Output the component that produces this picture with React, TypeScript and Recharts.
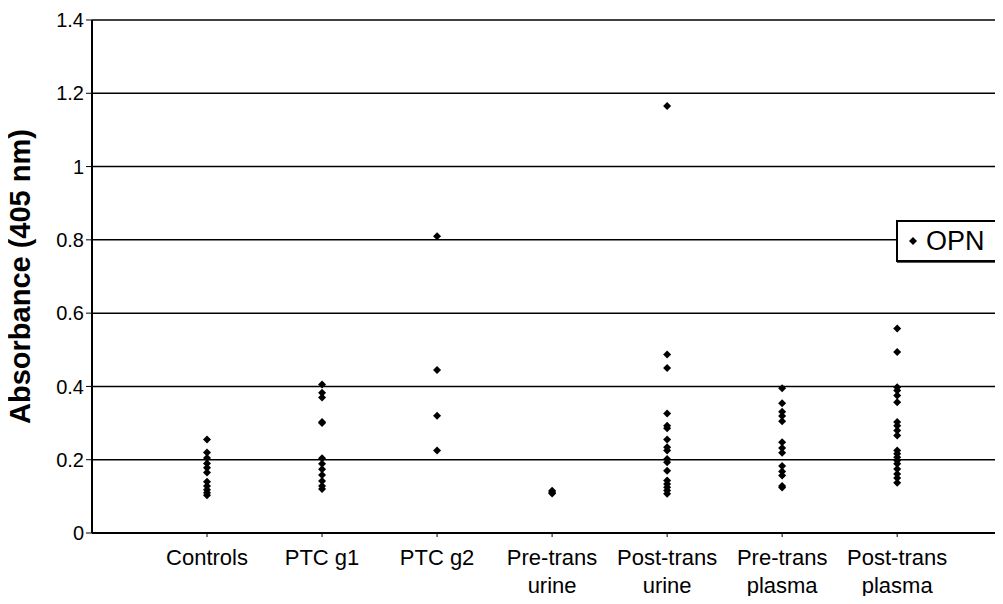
import React from "react";
import {
  ScatterChart,
  Scatter,
  XAxis,
  YAxis,
  CartesianGrid,
  Legend,
} from "recharts";

const CATEGORIES = [
  "Controls",
  "PTC g1",
  "PTC g2",
  "Pre-trans\nurine",
  "Post-trans\nurine",
  "Pre-trans\nplasma",
  "Post-trans\nplasma",
];

const controls = [0.255, 0.22, 0.205, 0.19, 0.178, 0.165, 0.14, 0.128, 0.118, 0.11, 0.103];
const ptcG1 = [0.405, 0.383, 0.37, 0.303, 0.3, 0.204, 0.189, 0.174, 0.158, 0.142, 0.128, 0.12];
const ptcG2 = [0.81, 0.445, 0.32, 0.225];
const preTransUrine = [0.115, 0.111, 0.108];
const postTransUrine = [
  1.165, 0.487, 0.45, 0.326, 0.293, 0.286, 0.255, 0.234, 0.225, 0.202, 0.193, 0.17,
  0.143, 0.134, 0.125, 0.116, 0.107,
];
const preTransPlasma = [
  0.395, 0.354, 0.331, 0.319, 0.305, 0.248, 0.232, 0.219, 0.183, 0.168, 0.157, 0.128, 0.124,
];
const postTransPlasma = [
  0.558, 0.494, 0.398, 0.389, 0.375, 0.357, 0.303, 0.293, 0.28, 0.266, 0.225, 0.216,
  0.207, 0.198, 0.189, 0.175, 0.161, 0.15, 0.137,
];

const Y_TICKS = [0, 0.2, 0.4, 0.6, 0.8, 1, 1.2, 1.4];
const X_TICKS = [1, 2, 3, 4, 5, 6, 7];

const SERIES = [
  controls,
  ptcG1,
  ptcG2,
  preTransUrine,
  postTransUrine,
  preTransPlasma,
  postTransPlasma,
];

const data = SERIES.flatMap((vals, i) => vals.map((v) => ({ x: i + 1, y: v })));

const FONT = '"Liberation Sans", Arial, sans-serif';

function Diamond(props: any) {
  const { cx, cy } = props;
  if (cx == null || cy == null) return null;
  const r = 4;
  return (
    <polygon
      points={`${cx},${cy - r} ${cx + r},${cy} ${cx},${cy + r} ${cx - r},${cy}`}
      fill="#000"
    />
  );
}

function CategoryTick({ x, y, payload }: any) {
  const label = CATEGORIES[payload.value - 1] ?? "";
  const lines = label.split("\n");
  return (
    <text x={x} y={y} textAnchor="middle" fontSize={22} fill="#000" fontFamily={FONT}>
      {lines.map((line, i) => (
        <tspan key={i} x={x} dy={i === 0 ? 26 : 28}>
          {line}
        </tspan>
      ))}
    </text>
  );
}

function LegendBox() {
  return (
    <div
      style={{
        width: 103,
        height: 42,
        border: "2px solid #000",
        background: "#fff",
        boxSizing: "border-box",
        display: "flex",
        alignItems: "center",
        fontFamily: FONT,
        fontSize: 27,
        color: "#000",
        boxShadow: "1px 1px 0 #555",
      }}
    >
      <svg width={20} height={20} style={{ marginLeft: 5 }}>
        <polygon points="10,6 14,10 10,14 6,10" fill="#000" />
      </svg>
      <span style={{ marginLeft: 3 }}>OPN</span>
    </div>
  );
}

export default function App() {
  return (
    <div
      style={{
        margin: -8,
        width: 1003,
        height: 604,
        overflow: "hidden",
        background: "#fff",
        position: "relative",
      }}
    >
      <ScatterChart
        width={1003}
        height={604}
        margin={{ top: 20, right: 0, bottom: 0, left: 30 }}
      >
        <CartesianGrid vertical={false} stroke="#000" strokeWidth={1.5} />
        <XAxis
          type="number"
          dataKey="x"
          domain={[0, 7.92]}
          ticks={X_TICKS}
          allowDataOverflow
          interval={0}
          height={71}
          tick={<CategoryTick />}
          axisLine={{ stroke: "#000", strokeWidth: 2 }}
          tickLine={{ stroke: "#000" }}
          tickSize={4}
        />
        <YAxis
          type="number"
          dataKey="y"
          domain={[0, 1.4]}
          ticks={Y_TICKS}
          allowDataOverflow
          width={62}
          tickFormatter={(v: number) => String(v)}
          tick={{ fontSize: 20, fill: "#000", fontFamily: FONT }}
          axisLine={{ stroke: "#000", strokeWidth: 2 }}
          tickLine={{ stroke: "#000" }}
          tickSize={6}
          label={{
            value: "Absorbance (405 nm)",
            angle: -90,
            position: "insideLeft",
            dx: -15,
            style: {
              fontSize: 29,
              fontWeight: "bold",
              fill: "#000",
              fontFamily: FONT,
              textAnchor: "middle",
            },
          }}
        />
        <Legend
          layout="horizontal"
          verticalAlign="middle"
          align="center"
          content={() => <LegendBox />}
          wrapperStyle={{ position: "absolute", left: 896, top: 220, width: 103 }}
        />
        <Scatter
          name="OPN"
          data={data}
          shape={<Diamond />}
          isAnimationActive={false}
        />
      </ScatterChart>
    </div>
  );
}
